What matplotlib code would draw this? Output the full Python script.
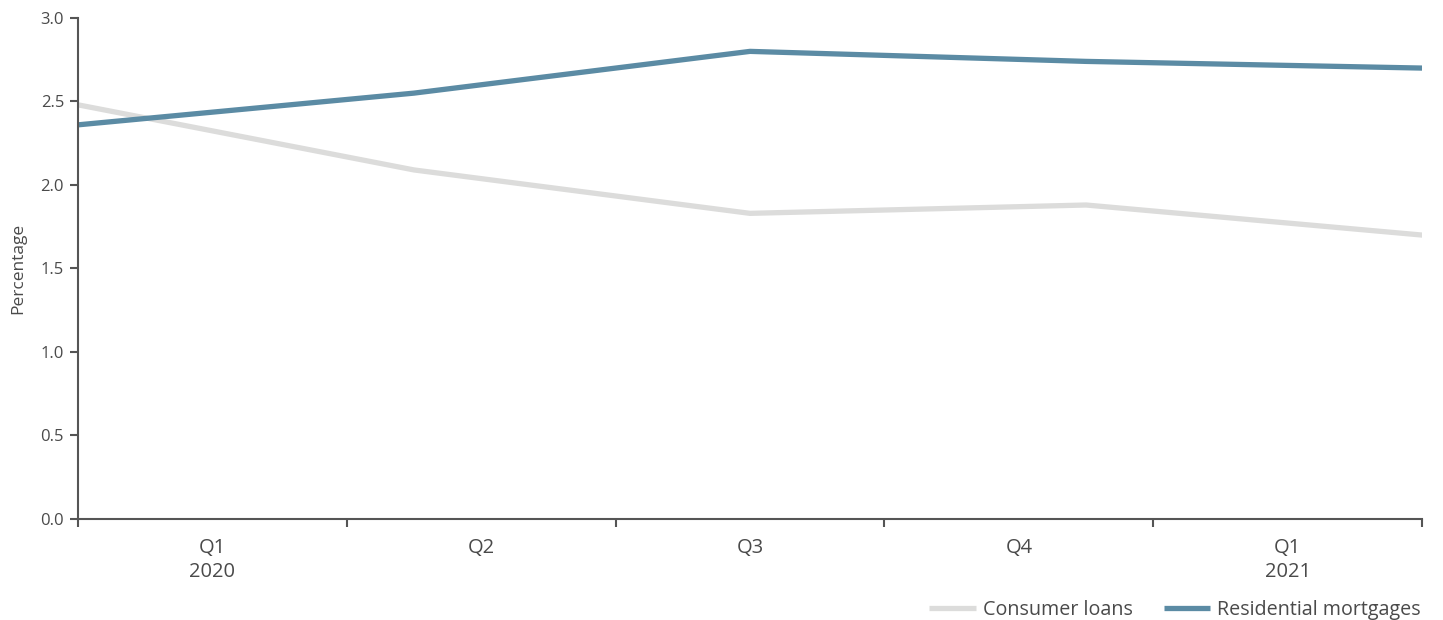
import numpy as np
import matplotlib.pyplot as plt

plt.rcParams['font.family'] = ['Open Sans', 'DejaVu Sans']

# Datos
trimestres = ['Q1\n2020', 'Q2', 'Q3', 'Q4', 'Q1\n2021']
consumo = [2.48, 2.09, 1.83, 1.88, 1.70]
hipotecas = [2.36, 2.55, 2.80, 2.74, 2.70]

gris_texto = '#4a4a4a'
col_consumo = '#dcdcdb'
col_hipotecas = '#5b8ba4'

fig = plt.figure(figsize=(14.43, 6.2), dpi=100)
ax = fig.add_axes([0.054, 0.163, 0.9315, 0.808])

x = np.arange(len(consumo))
ax.plot(x, consumo, color=col_consumo, linewidth=3.8, solid_capstyle='round', label='Consumer loans')
ax.plot(x, hipotecas, color=col_hipotecas, linewidth=3.8, solid_capstyle='round', label='Residential mortgages')

ax.set_xlim(0, len(consumo) - 1)
ax.set_ylim(0, 3.0)

# Las etiquetas van centradas en bandas, los ticks en los bordes
n = len(trimestres)
ancho = (len(consumo) - 1) / n
ax.set_xticks(np.arange(n + 1) * ancho)
ax.set_xticklabels([])
ax.set_xticks((np.arange(n) + 0.5) * ancho, minor=True)
ax.set_xticklabels(trimestres, minor=True, fontsize=14.5, color=gris_texto, linespacing=1.25)
ax.tick_params(axis='x', which='minor', length=0, pad=14)
ax.tick_params(axis='x', which='major', direction='out', length=6, width=1.5, color='#555555')

ax.set_yticks(np.arange(0, 3.01, 0.5))
ax.set_yticklabels([f'{v:.1f}' for v in np.arange(0, 3.01, 0.5)], fontsize=12, color=gris_texto)
ax.tick_params(axis='y', direction='out', length=6, width=1.5, color='#555555', pad=4)
ax.set_ylabel('Percentage', fontsize=12.5, color=gris_texto, labelpad=10)

for lado in ['top', 'right']:
    ax.spines[lado].set_visible(False)
for lado in ['left', 'bottom']:
    ax.spines[lado].set_color('#555555')
    ax.spines[lado].set_linewidth(1.5)

leg = fig.legend(loc='lower right', bbox_to_anchor=(0.997, -0.028), ncol=2, frameon=False,
                 fontsize=14.2, handlelength=2.35, columnspacing=1.6, handletextpad=0.35,
                 labelcolor=gris_texto)
for linea in leg.get_lines():
    linea.set_solid_capstyle('butt')

plt.savefig('out.png', dpi=100)
